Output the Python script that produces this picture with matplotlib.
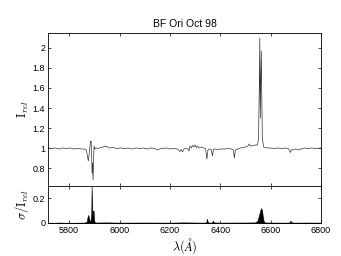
import numpy as np
import matplotlib
matplotlib.use('Agg')
import matplotlib.pyplot as plt

plt.rcParams['font.family'] = ['Liberation Sans', 'DejaVu Sans']
plt.rcParams['mathtext.fontset'] = 'cm'

# 归一化光谱 (波长, 相对强度)
wave = [5716, 5730, 5745, 5760, 5775, 5790, 5805, 5820, 5835, 5850, 5860, 5868,
        5872, 5876, 5879, 5882, 5885, 5887, 5889, 5891, 5893, 5895, 5897, 5899,
        5902, 5908, 5915, 5925, 5935, 5940, 5945, 5950, 5960, 5975, 5990, 6005,
        6020, 6035, 6050, 6065, 6080, 6095, 6110, 6125, 6140, 6150, 6158, 6170,
        6185, 6200, 6215, 6230, 6240, 6245, 6250, 6256, 6265, 6272, 6276, 6280,
        6285, 6290, 6295, 6300, 6305, 6310, 6316, 6325, 6335, 6342, 6347, 6351,
        6358, 6364, 6369, 6373, 6380, 6390, 6400, 6415, 6430, 6445, 6452, 6456,
        6460, 6470, 6480, 6490, 6500, 6510, 6515, 6520, 6530, 6540, 6548, 6552,
        6555, 6557, 6559, 6561, 6563, 6565, 6567, 6572, 6580, 6590, 6600, 6615,
        6630, 6645, 6660, 6672, 6678, 6683, 6690, 6700, 6710, 6720, 6735, 6750,
        6765, 6780, 6800]
flux = [1.00, 0.995, 1.00, 0.99, 1.00, 0.995, 1.00, 0.99, 0.995, 0.99, 0.99, 0.98,
        0.93, 0.87, 0.93, 1.00, 1.06, 1.07, 0.95, 0.75, 0.85, 0.68, 0.90, 1.02,
        0.99, 1.00, 0.995, 1.005, 1.01, 1.02, 1.01, 1.015, 1.00, 1.005, 0.995, 1.00,
        0.995, 1.00, 0.99, 1.00, 0.995, 1.00, 0.99, 1.00, 0.995, 0.98, 0.99, 0.995,
        1.00, 0.99, 0.995, 0.99, 0.965, 0.985, 0.96, 0.99, 0.995, 0.99, 0.97, 1.02,
        1.00, 1.025, 1.01, 1.03, 1.005, 1.02, 1.00, 1.01, 1.00, 0.99, 0.89, 0.98,
        0.99, 0.985, 0.92, 0.985, 0.99, 0.985, 0.99, 0.99, 0.995, 0.99, 0.98, 0.90,
        0.98, 0.99, 1.00, 1.005, 1.01, 1.02, 1.04, 1.02, 1.025, 1.03, 1.03, 1.10,
        1.60, 2.10, 1.30, 1.70, 1.97, 1.50, 1.10, 1.01, 1.005, 1.00, 1.00, 0.995,
        1.00, 0.995, 1.00, 0.99, 0.955, 0.98, 0.985, 0.99, 0.98, 0.99, 1.00, 0.995,
        1.00, 0.995, 1.00]

# 相对误差 sigma/I
wave_s = [5716, 5740, 5760, 5780, 5800, 5820, 5840, 5860, 5870, 5873, 5876, 5879,
          5882, 5885, 5888, 5889, 5891, 5893, 5895, 5897, 5899, 5903, 5950, 6000,
          6100, 6200, 6250, 6300, 6340, 6345, 6347, 6350, 6355, 6366, 6369, 6371,
          6374, 6400, 6450, 6500, 6540, 6548, 6552, 6556, 6560, 6563, 6566, 6569,
          6573, 6580, 6650, 6674, 6676, 6678, 6681, 6690, 6750, 6800]
sigma = [0.003, 0.002, 0.004, 0.002, 0.003, 0.002, 0.003, 0.003, 0.01, 0.05, 0.065, 0.04,
         0.01, 0.02, 0.08, 0.30, 0.15, 0.05, 0.10, 0.10, 0.02, 0.004, 0.005, 0.003,
         0.004, 0.003, 0.005, 0.004, 0.003, 0.01, 0.035, 0.01, 0.003, 0.004, 0.01, 0.02,
         0.005, 0.003, 0.004, 0.004, 0.005, 0.02, 0.05, 0.08, 0.11, 0.12, 0.10, 0.05,
         0.01, 0.004, 0.003, 0.004, 0.008, 0.02, 0.008, 0.003, 0.004, 0.003]

fig = plt.figure(figsize=(3.41, 2.56), dpi=100)
ax1 = fig.add_axes([48/341, 1 - 186/256, 273/341, 153/256])
ax2 = fig.add_axes([48/341, 1 - 223/256, 273/341, 37/256], sharex=ax1)

ax1.plot(wave, flux, color='#333333', lw=0.5)
ax1.set_xlim(5716, 6800)
ax1.set_ylim(0.62, 2.15)
ax1.set_yticks([0.8, 1, 1.2, 1.4, 1.6, 1.8, 2])
ax1.set_yticklabels(['0.8', '1', '1.2', '1.4', '1.6', '1.8', '2'])
ax1.set_ylabel(r'$\mathrm{I}_{rel}$', fontsize=9, labelpad=1)
ax1.set_title('BF Ori Oct 98', fontsize=7.5, pad=4)
ax1.tick_params(labelbottom=False)

ax2.fill_between(wave_s, 0, sigma, color='black', lw=0.4)
ax2.set_ylim(0, 0.3)
ax2.set_yticks([0, 0.2])
ax2.set_yticklabels(['0', '0.2'])
ax2.set_xticks([5800, 6000, 6200, 6400, 6600, 6800])
ax2.set_ylabel(r'$\sigma/\mathrm{I}_{rel}$', fontsize=9, labelpad=1)
ax2.set_xlabel(r'$\lambda(\AA)$', fontsize=9, labelpad=1)

for ax in (ax1, ax2):
    ax.tick_params(direction='in', top=True, right=True, labelsize=6.5,
                   length=2.5, width=0.5, pad=2)
    for s in ax.spines.values():
        s.set_linewidth(0.6)

fig.savefig('out.png', dpi=100)
